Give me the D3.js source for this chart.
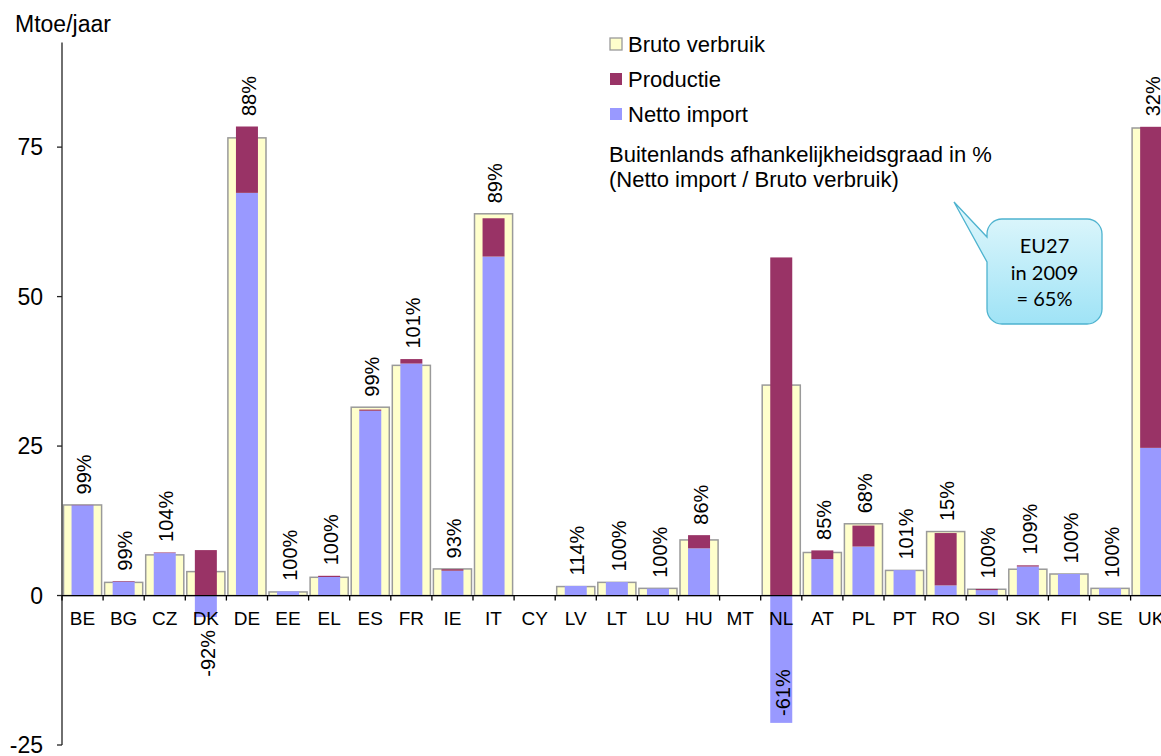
<!DOCTYPE html>
<html>
<head>
<meta charset="utf-8">
<script src="https://cdn.jsdelivr.net/npm/d3@7"></script>
<style>
  html, body { margin: 0; padding: 0; background: #fff; }
  svg { display: block; font-family: "Liberation Sans", Arial, sans-serif; }
</style>
</head>
<body>
<svg id="chart" width="1161" height="756"></svg>
<script>
// Landen (EU27)
const countries = ["BE","BG","CZ","DK","DE","EE","EL","ES","FR","IE","IT","CY","LV","LT","LU","HU","MT","NL","AT","PL","PT","RO","SI","SK","FI","SE","UK"];
// Bruto verbruik (Mtoe/jaar)
const brutoVerbruik = [15.15,2.2,6.8,4.0,76.55,0.6,3.05,31.5,38.5,4.45,63.85,0,1.5,2.2,1.2,9.3,0,35.2,7.2,12.0,4.2,10.7,1.05,4.4,3.6,1.2,78.2];
// Netto import (Mtoe/jaar)
const nettoImport = [15.1,2.3,7.1,-3.6,67.35,0.7,3.1,30.9,38.8,4.15,56.7,0,1.6,2.25,1.15,7.9,0,-21.3,6.1,8.2,4.25,1.7,0.9,4.85,3.6,1.2,24.7];
// Productie (Mtoe/jaar)
const productie = [0.05,0.1,0.1,7.6,11.1,0,0.2,0.2,0.75,0.25,6.4,0,0,0,0,2.2,0,56.55,1.45,3.5,0,8.75,0.2,0.2,0,0,53.7];
// Buitenlandse afhankelijkheidsgraad per land
const afhankelijkheid = ["99%","99%","104%","-92%","88%","100%","100%","99%","101%","93%","89%","","114%","100%","100%","86%","","-61%","85%","68%","101%","15%","100%","109%","100%","100%","32%"];
// As
const yTicks = [-25, 0, 25, 50, 75];
const seriesNames = ["Bruto verbruik", "Productie", "Netto import"];
const calloutLines = ["EU27", "in 2009", "= 65%"];

const colors = { bruto: "#FFFFCC", brutoStroke: "#9a9a9a", prod: "#993366", imp: "#9999FF" };

const svg = d3.select("#chart");

const x = d3.scaleBand().domain(countries).range([62, 62 + 27 * 41.1]).paddingInner(0).paddingOuter(0);
const y = d3.scaleLinear().domain([-25, 92.5]).range([745, 42.5]);
const bw = x.bandwidth();

const rows = countries.map((c, i) => ({ country: c, bruto: brutoVerbruik[i], imp: nettoImport[i], prod: productie[i], label: afhankelijkheid[i] }));

// Bruto verbruik: brede balk op de achtergrond
svg.append("g").selectAll("rect").data(rows.filter(d => d.bruto !== 0)).join("rect")
  .attr("x", d => x(d.country) + 1.5)
  .attr("width", bw - 3)
  .attr("y", d => y(d.bruto))
  .attr("height", d => y(0) - y(d.bruto))
  .attr("fill", colors.bruto)
  .attr("stroke", colors.brutoStroke)
  .attr("stroke-width", 1.5);

// Netto import + productie gestapeld
const stack = d3.stack().keys(["imp", "prod"]).offset(d3.stackOffsetDiverging);
const stacked = stack(rows);
const innerW = 22;
svg.append("g").selectAll("g").data(stacked).join("g")
  .attr("fill", s => s.key === "imp" ? colors.imp : colors.prod)
  .selectAll("rect").data(s => s.map(v => ({ v, country: v.data.country }))).join("rect")
  .filter(d => d.v[1] !== d.v[0])
  .attr("x", d => x(d.country) + (bw - innerW) / 2)
  .attr("width", innerW)
  .attr("y", d => y(Math.max(d.v[0], d.v[1])))
  .attr("height", d => Math.abs(y(d.v[0]) - y(d.v[1])));

// Assen
const axisColor = "#222";
svg.append("line").attr("x1", 62).attr("x2", 62).attr("y1", y(92.5)).attr("y2", y(-25))
  .attr("stroke", axisColor).attr("stroke-width", 1.3);
svg.append("line").attr("x1", 62).attr("x2", 1175).attr("y1", y(0)).attr("y2", y(0))
  .attr("stroke", "#000").attr("stroke-width", 1.3);

const yAxis = svg.append("g");
yAxis.selectAll("line").data(yTicks).join("line")
  .attr("x1", 57).attr("x2", 62).attr("y1", d => y(d)).attr("y2", d => y(d))
  .attr("stroke", axisColor).attr("stroke-width", 1.3);
yAxis.selectAll("text").data(yTicks).join("text")
  .attr("x", 43).attr("y", d => y(d) + 8)
  .attr("text-anchor", "end").attr("font-size", 23).attr("fill", "#000")
  .text(d => d);

// Categoriegrenzen
const bounds = countries.map(c => x(c)).concat([x(countries[countries.length - 1]) + bw]);
svg.append("g").selectAll("line").data(bounds).join("line")
  .attr("x1", d => d).attr("x2", d => d).attr("y1", y(0)).attr("y2", y(0) + 5)
  .attr("stroke", "#000").attr("stroke-width", 1.3);

svg.append("g").selectAll("text").data(countries).join("text")
  .attr("x", c => x(c) + bw / 2).attr("y", 624.5)
  .attr("text-anchor", "middle").attr("font-size", 19).attr("fill", "#000")
  .text(c => c);

// Percentagelabels
const labelSize = 20;
const lab = svg.append("g").attr("font-size", labelSize).attr("fill", "#000");
rows.filter(d => d.label !== "").forEach(d => {
  const cx = x(d.country) + bw / 2 + 1.5 + labelSize * 0.36;
  if (d.label.startsWith("-")) {
    const t = lab.append("text").text(d.label);
    const len = t.node().getComputedTextLength();
    const bottom = y(d.imp);
    const startY = Math.min(bottom + 13 + len, 716);
    t.attr("transform", `translate(${cx},${startY}) rotate(-90)`);
  } else {
    const top = Math.min(y(d.bruto), y(Math.max(d.imp, 0) + d.prod));
    lab.append("text").text(d.label)
      .attr("transform", `translate(${cx},${top - 10.5}) rotate(-90)`);
  }
});

// Eenheid
svg.append("text").attr("x", 15).attr("y", 32).attr("font-size", 23).attr("fill", "#000").text("Mtoe/jaar");

// Legenda
const legend = svg.append("g");
const legColors = [colors.bruto, colors.prod, colors.imp];
seriesNames.forEach((n, i) => {
  const cy = 44 + i * 35;
  legend.append("rect").attr("x", 610).attr("y", cy - 6).attr("width", 12).attr("height", 12)
    .attr("fill", legColors[i])
    .attr("stroke", i === 0 ? colors.brutoStroke : "none").attr("stroke-width", 1.3);
  legend.append("text").attr("x", 628).attr("y", cy + 8).attr("font-size", 22).attr("fill", "#000").text(n);
});
legend.append("text").attr("x", 609).attr("y", 162).attr("font-size", 22).attr("fill", "#000")
  .text("Buitenlands afhankelijkheidsgraad in %");
legend.append("text").attr("x", 609).attr("y", 187).attr("font-size", 22).attr("fill", "#000")
  .text("(Netto import / Bruto verbruik)");

// Toelichting EU27
const defs = svg.append("defs");
const grad = defs.append("linearGradient").attr("id", "callFill").attr("x1", 0).attr("y1", 0).attr("x2", 0).attr("y2", 1);
grad.append("stop").attr("offset", "0%").attr("stop-color", "#e3f8fc");
grad.append("stop").attr("offset", "100%").attr("stop-color", "#9fe3f6");

const bx0 = 987, bx1 = 1102, by0 = 219, by1 = 324, r = 15;
const p = d3.path();
p.moveTo(954, 202);
p.lineTo(bx0, 237);
p.lineTo(bx0, by0 + r);
p.arcTo(bx0, by0, bx0 + r, by0, r);
p.lineTo(bx1 - r, by0);
p.arcTo(bx1, by0, bx1, by0 + r, r);
p.lineTo(bx1, by1 - r);
p.arcTo(bx1, by1, bx1 - r, by1, r);
p.lineTo(bx0 + r, by1);
p.arcTo(bx0, by1, bx0, by1 - r, r);
p.lineTo(bx0, 262);
p.closePath();
svg.append("path").attr("d", p.toString())
  .attr("fill", "url(#callFill)").attr("stroke", "#4eb3cf").attr("stroke-width", 1.3);

svg.append("g").selectAll("text").data(calloutLines).join("text")
  .attr("x", 1044.5).attr("y", (d, i) => 253 + i * 26.5)
  .attr("text-anchor", "middle").attr("font-family", "Lato, 'Open Sans', sans-serif")
  .attr("font-size", 20).attr("fill", "#000")
  .text(d => d);
</script>
</body>
</html>
